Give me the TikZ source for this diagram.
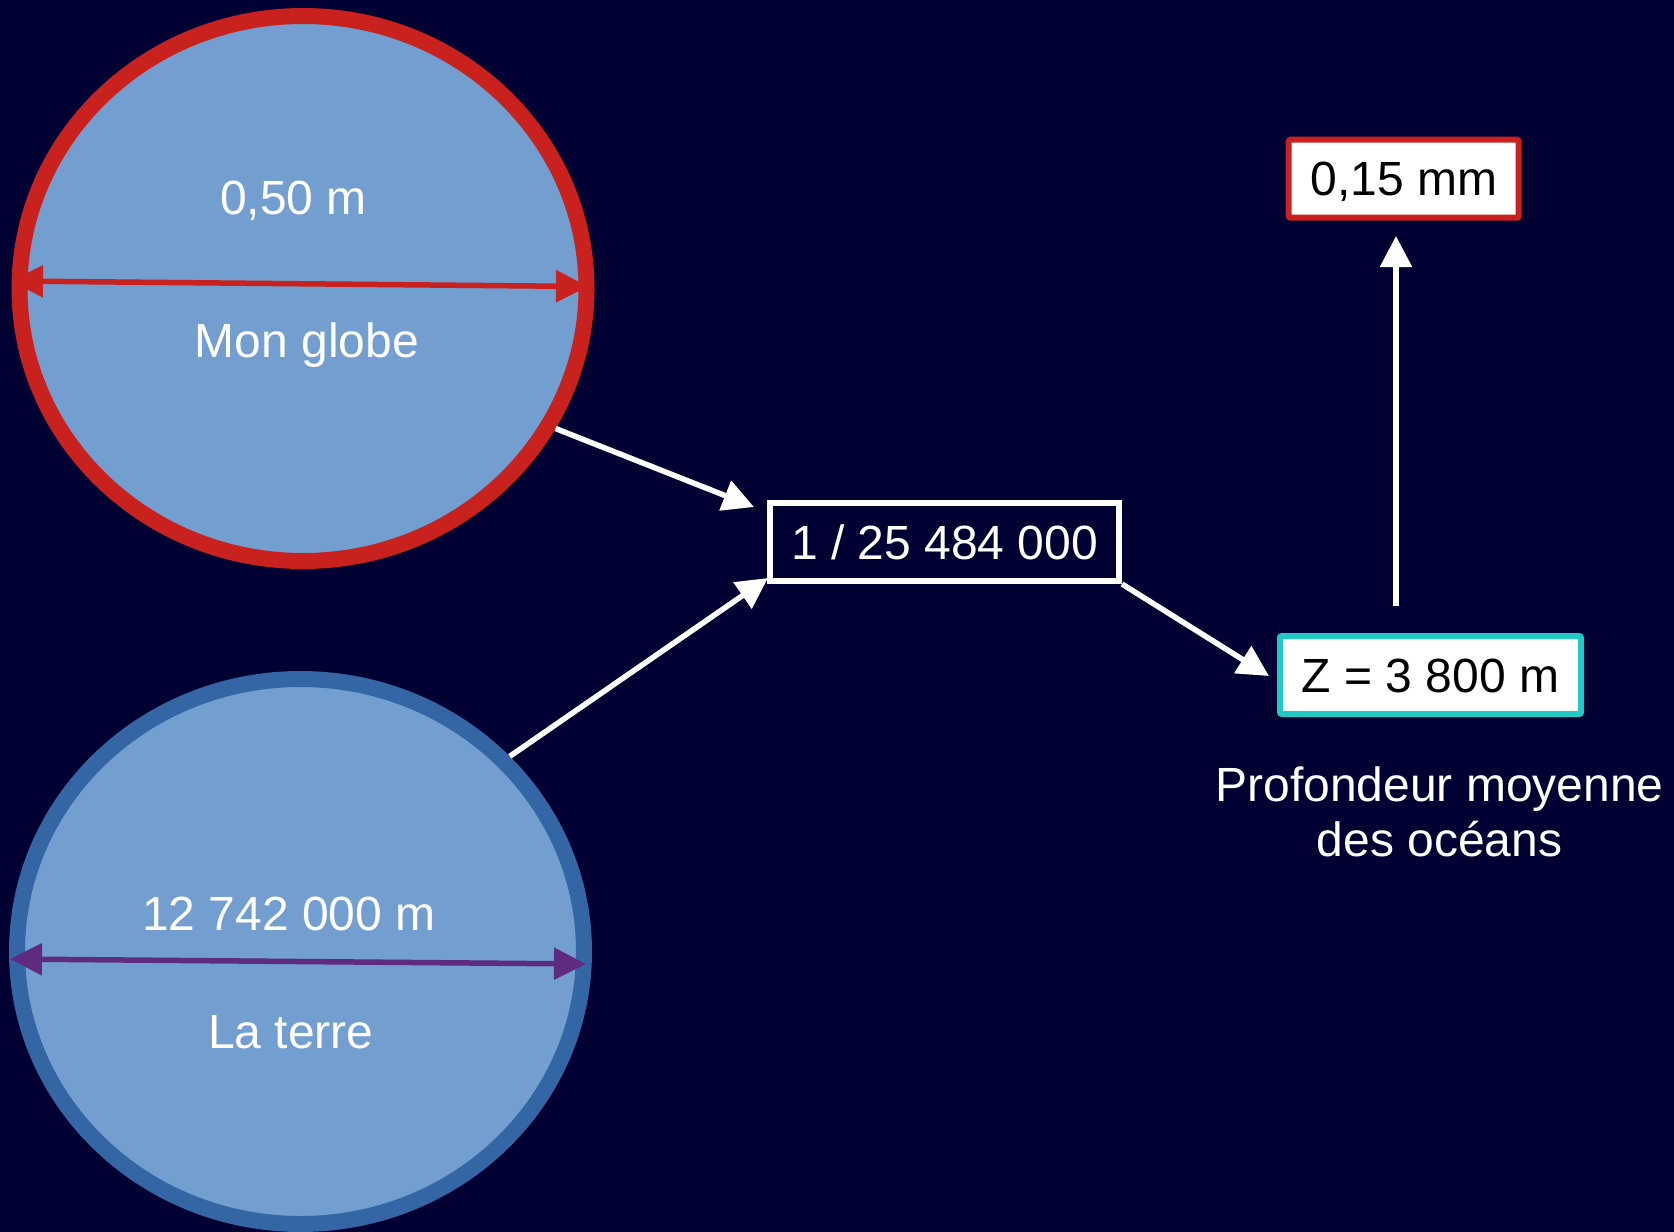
\documentclass[tikz,border=0pt]{standalone}
\usepackage{fontspec}
\setmainfont{Liberation Sans}
\usetikzlibrary{shapes.geometric,arrows.meta}
\definecolor{bgnavy}{RGB}{0,0,51}
\definecolor{globefill}{HTML}{729FCF}
\definecolor{redline}{HTML}{C9211E}
\definecolor{earthline}{HTML}{3465A4}
\definecolor{purpleline}{RGB}{94,43,128}
\definecolor{tealline}{RGB}{34,200,196}
\begin{document}
\begin{tikzpicture}[x=1pt,y=-1pt,
  big/.style={font=\fontsize{48pt}{55pt}\selectfont},
  lbl/.style={big, text=white, inner sep=0pt, anchor=base},
  sphere/.style={ellipse, fill=globefill, line width=16pt, minimum width=567pt, minimum height=545pt, inner sep=0pt},
  valbox/.style={big, rectangle, line width=6pt, inner sep=0pt, text height=34.4pt, text depth=0pt, minimum height=78pt},
  arr/.style={draw=white, line width=5.5pt, -{Triangle[length=31pt,width=31pt]}},
  dim/.style={line width=5.5pt, {Triangle[length=32pt,width=31pt]}-{Triangle[length=32pt,width=31pt]}}
]
\fill[bgnavy] (0,0) rectangle (1674,1232);
\useasboundingbox (0,0) rectangle (1674,1232);

\node[sphere, draw=redline] (globe) at (303,288.5) {};
\node[sphere, draw=earthline] (earth) at (300.5,951.5) {};

\coordinate (ga) at (11,281);
\coordinate (gb) at (588,286.5);
\draw[dim, redline] (ga) -- (gb);
\coordinate (ea) at (10,959);
\coordinate (eb) at (586,964);
\draw[dim, purpleline] (ea) -- (eb);

\node[lbl] (globesize) at (293.5,214.5) {0,50 m};
\node[lbl] (globename) at (307,357) {Mon globe};
\node[lbl] (earthsize) at (289,930) {12 742 000 m};
\node[lbl] (earthname) at (291,1048.5) {La terre};

\node[valbox, draw=white, text=white, minimum width=349pt] (ratio) at (944.5,542) {1 / 25 484 000};
\node[valbox, draw=redline, fill=white, text=black, minimum width=230pt, rounded corners=2pt] (up) at (1403.7,178.7) {0,15 mm};
\node[valbox, draw=tealline, fill=white, text=black, minimum width=301pt, rounded corners=2pt] (Z) at (1430.5,675) {Z = 3 800 m};

\node[lbl, align=center] (depth) at (1439.5,856.7) {Profondeur moyenne\\des océans};

\draw[arr] (globe.-29) -- ([shift={(-13,7)}]ratio.north west);
\draw[arr] (earth.43) -- ([shift={(1,-6)}]ratio.south west);
\draw[arr] (ratio.south east) -- ([shift={(-8,1)}]Z.west);
\draw[arr] ([shift={(-34.5,-27)}]Z.north) -- ([shift={(-7.7,15.3)}]up.south);
\end{tikzpicture}
\end{document}
